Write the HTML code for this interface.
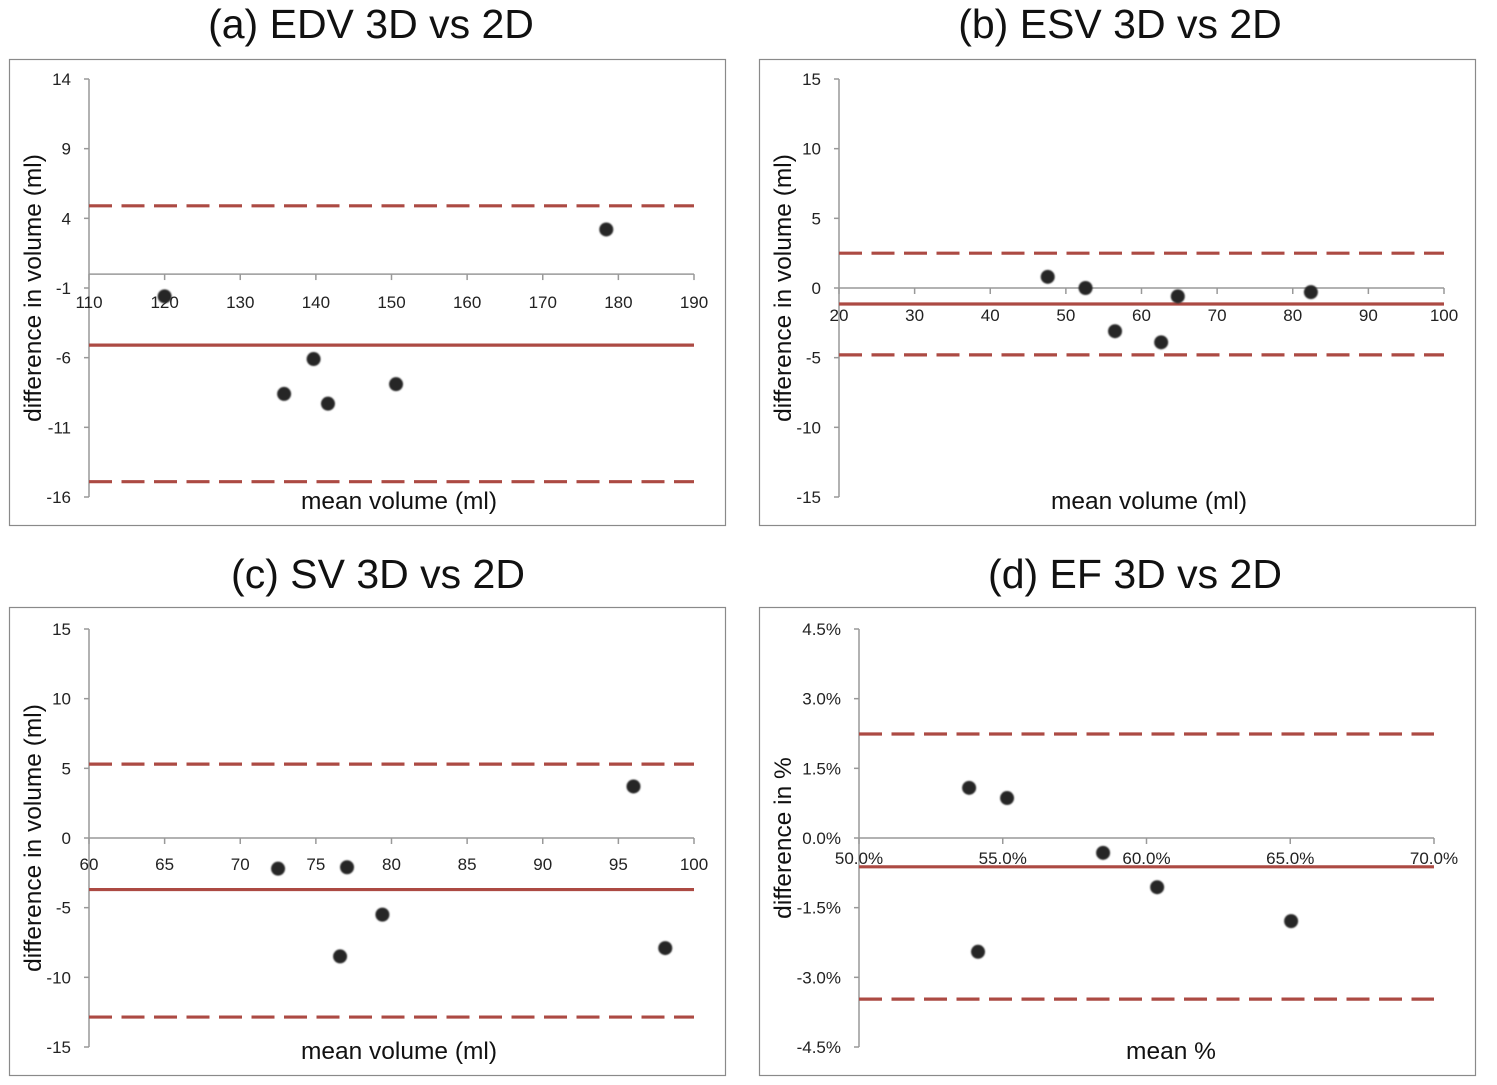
<!DOCTYPE html>
<html><head><meta charset="utf-8"><style>
body{margin:0;background:#fff;}
svg{display:block;font-family:"Liberation Sans",sans-serif;}
</style></head><body>
<svg id="s" width="1497" height="1085" xmlns="http://www.w3.org/2000/svg">
<defs><filter id="bl" x="-50%" y="-50%" width="200%" height="200%"><feGaussianBlur stdDeviation="0.8"/></filter></defs>
</svg>
<script>
// Panel (a) EDV
const aX = [120, 178.4, 139.7, 135.8, 141.6, 150.6];
const aY = [-1.6, 3.2, -6.1, -8.6, -9.3, -7.9];
const aLines = [4.9, -5.1, -14.9];
const aXTicks = [110,120,130,140,150,160,170,180,190];
const aYTicks = [14,9,4,-1,-6,-11,-16];
// Panel (b) ESV
const bX = [47.6, 52.6, 56.5, 62.6, 64.8, 82.4];
const bY = [0.8, 0.0, -3.1, -3.9, -0.6, -0.3];
const bLines = [2.5, -1.15, -4.8];
const bXTicks = [20,30,40,50,60,70,80,90,100];
const bYTicks = [15,10,5,0,-5,-10,-15];
// Panel (c) SV
const cX = [72.5, 77.06, 76.6, 79.4, 96, 98.1];
const cY = [-2.2, -2.1, -8.5, -5.5, 3.7, -7.9];
const cLines = [5.3, -3.7, -12.85];
const cXTicks = [60,65,70,75,80,85,90,95,100];
const cYTicks = [15,10,5,0,-5,-10,-15];
// Panel (d) EF
const dX = [53.83, 55.15, 58.49, 60.37, 54.14, 65.03];
const dY = [1.08, 0.86, -0.32, -1.06, -2.45, -1.79];
const dLines = [2.24, -0.62, -3.47];
const dXTicks = [50,55,60,65,70];
const dYTicks = [4.5,3.0,1.5,0,-1.5,-3.0,-4.5];

const svg = document.getElementById('s');
const NS = 'http://www.w3.org/2000/svg';
function mk(tag, attrs, parent, text){
  const e = document.createElementNS(NS, tag);
  for (const k in attrs) e.setAttribute(k, attrs[k]);
  if (text !== undefined) e.textContent = text;
  (parent||svg).appendChild(e);
  return e;
}
const RED = '#ac4a43';

function panel(cfg){
  const g = mk('g', {});
  
  
  const fr = mk('rect', {x:cfg.fx+0.5, y:cfg.fy+0.5, width:716, height:cfg.fh, fill:'none', stroke:'#8a8a8a', 'stroke-width':1.2}, g);
  
  
  const t = mk('text', {x:cfg.tx, y:cfg.ty, 'text-anchor':'middle', 'font-size':41, fill:'#111'}, g, cfg.title);
  
  
  const xs = v => cfg.x0 + (v - cfg.xmin) / (cfg.xmax - cfg.xmin) * (cfg.x1 - cfg.x0);
  const ys = v => cfg.y0 + (cfg.ymax - v) / (cfg.ymax - cfg.ymin) * (cfg.y1 - cfg.y0);
  const ya = mk('line', {x1:cfg.x0, x2:cfg.x0, y1:cfg.y0, y2:cfg.y1, stroke:'#999', 'stroke-width':1.5}, g);
  
  
  cfg.yt.forEach(v => {
    mk('line', {x1:cfg.x0-5, x2:cfg.x0, y1:ys(v), y2:ys(v), stroke:'#999', 'stroke-width':1.5}, g);
    const l = mk('text', {x:cfg.x0-18, y:ys(v)+6, 'text-anchor':'end', 'font-size':17, fill:'#222'}, g, cfg.yf(v));
    
    
  });
  const y0p = ys(0);
  const xa = mk('line', {x1:cfg.x0, x2:cfg.x1, y1:y0p, y2:y0p, stroke:'#999', 'stroke-width':1.5}, g);
  
  
  cfg.xt.forEach(v => {
    mk('line', {x1:xs(v), x2:xs(v), y1:y0p, y2:y0p+6, stroke:'#999', 'stroke-width':1.5}, g);
    const l = mk('text', {x:xs(v), y:y0p+cfg.xoff, 'text-anchor':'middle', 'font-size':17, fill:'#222'}, g, cfg.xf(v));
    
    
  });
  cfg.lines.forEach((v, i) => {
    const ln = mk('line', {x1:cfg.x0, x2:cfg.x1, y1:ys(v), y2:ys(v), stroke:RED, 'stroke-width':3.2}, g);
    if (i !== 1) ln.setAttribute('stroke-dasharray', '23 9.5');
    
    
  });
  cfg.px.forEach((v, i) => {
    const c = mk('circle', {cx:xs(v), cy:ys(cfg.py[i]), r:7, fill:'#262626', filter:'url(#bl)'}, g);
    
    
  });
  const xt = mk('text', {x:cfg.xtx, y:cfg.y1+12, 'text-anchor':'middle', 'font-size':24.5, fill:'#111'}, g, cfg.xtitle);
  
  
  const cy = (cfg.y0 + cfg.y1) / 2;
  const yt = mk('text', {x:cfg.fx+32, y:cy, 'text-anchor':'middle', 'font-size':24.5, fill:'#111', transform:`rotate(-90 ${cfg.fx+32} ${cy})`}, g, cfg.ytitle);
  
  
}
const intf = v => String(v);
const pctf = v => v.toFixed(1) + '%';
panel({name:'panel-a-edv', title:'(a) EDV 3D vs 2D', tx:371, ty:38, fx:9, fy:59, fh:466,
  x0:89, x1:694, y0:79, y1:497, xmin:110, xmax:190, ymin:-16, ymax:14, xoff:34,
  px:aX, py:aY, lines:aLines, xt:aXTicks, yt:aYTicks, xf:intf, yf:intf,
  xtitle:'mean volume (ml)', xtx:399, ytitle:'difference in volume (ml)'});
panel({name:'panel-b-esv', title:'(b) ESV 3D vs 2D', tx:1120, ty:38, fx:759, fy:59, fh:466,
  x0:839, x1:1444, y0:79, y1:497, xmin:20, xmax:100, ymin:-15, ymax:15, xoff:33,
  px:bX, py:bY, lines:bLines, xt:bXTicks, yt:bYTicks, xf:intf, yf:intf,
  xtitle:'mean volume (ml)', xtx:1149, ytitle:'difference in volume (ml)'});
panel({name:'panel-c-sv', title:'(c) SV 3D vs 2D', tx:378, ty:588, fx:9, fy:607, fh:468,
  x0:89, x1:694, y0:629, y1:1047, xmin:60, xmax:100, ymin:-15, ymax:15, xoff:32,
  px:cX, py:cY, lines:cLines, xt:cXTicks, yt:cYTicks, xf:intf, yf:intf,
  xtitle:'mean volume (ml)', xtx:399, ytitle:'difference in volume (ml)'});
panel({name:'panel-d-ef', title:'(d) EF 3D vs 2D', tx:1135, ty:588, fx:759, fy:607, fh:468,
  x0:859, x1:1434, y0:629, y1:1047, xmin:50, xmax:70, ymin:-4.5, ymax:4.5, xoff:26,
  px:dX, py:dY, lines:dLines, xt:dXTicks, yt:dYTicks, xf:pctf, yf:pctf,
  xtitle:'mean %', xtx:1171, ytitle:'difference in %'});
</script>
</body></html>
